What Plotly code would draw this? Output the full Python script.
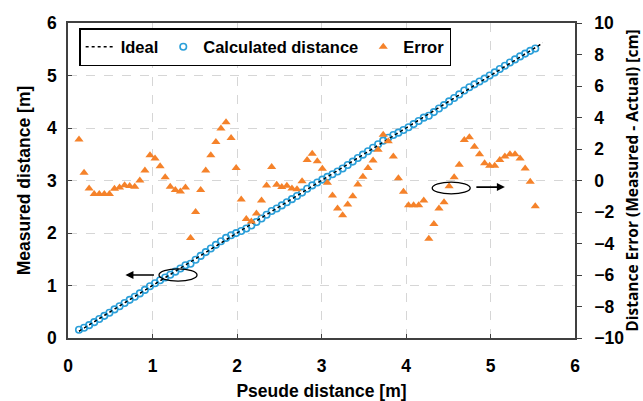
import plotly.graph_objects as go

pseudo = [0.13, 0.19, 0.25, 0.31, 0.37, 0.43, 0.49, 0.55, 0.61, 0.67,
          0.73, 0.79, 0.85, 0.91, 0.97, 1.03, 1.09, 1.15, 1.21, 1.27,
          1.33, 1.39, 1.45, 1.51, 1.57, 1.63, 1.69, 1.75, 1.81, 1.87,
          1.93, 1.99, 2.05, 2.11, 2.17, 2.23, 2.29, 2.35, 2.41, 2.47,
          2.53, 2.59, 2.65, 2.71, 2.77, 2.83, 2.89, 2.95, 3.01, 3.07,
          3.13, 3.19, 3.25, 3.31, 3.37, 3.43, 3.49, 3.55, 3.61, 3.67,
          3.73, 3.79, 3.85, 3.91, 3.97, 4.03, 4.09, 4.15, 4.21, 4.27,
          4.33, 4.39, 4.45, 4.51, 4.57, 4.63, 4.69, 4.75, 4.81, 4.87,
          4.93, 4.99, 5.05, 5.11, 5.17, 5.23, 5.29, 5.35, 5.41, 5.47,
          5.53]

error_cm = [2.6, 0.5, -0.5, -0.85, -0.85, -0.85, -0.85, -0.53, -0.45, -0.3,
            -0.35, -0.4, 0.0, 0.63, 1.6, 1.4, 0.9, 0.2, -0.4, -0.6,
            -0.7, -0.45, -3.65, -2.0, -0.6, 0.63, 1.6, 2.45, 3.3, 3.7,
            2.7, 0.8, -1.2, -2.45, -2.6, -2.1, -1.27, -0.32, 0.85, -0.27,
            -0.42, -0.34, -0.51, -0.55, -0.04, 1.3, 1.7, 1.23, 0.74, -0.15,
            -0.96, -1.78, -2.2, -1.53, -1.0, -0.25, 0.24, 0.8, 1.27, 1.95,
            2.9, 2.5, 1.53, 0.15, -0.72, -1.57, -1.57, -1.57, -1.27, -3.7,
            -2.76, -1.78, -1.38, -0.37, 0.21, 1.0, 2.57, 2.74, 2.15, 1.66,
            1.1, 0.94, 0.94, 1.3, 1.53, 1.66, 1.66, 1.4, 0.76, -0.08,
            -1.64]

measured = [round(p + e / 100.0, 4) for p, e in zip(pseudo, error_cm)]

ideal_x = [0.13, 5.62]
ideal_y = [0.13, 5.62]

x_ticks = [0, 1, 2, 3, 4, 5, 6]
y_ticks = [0, 1, 2, 3, 4, 5, 6]
y2_ticks = [-10, -8, -6, -4, -2, 0, 2, 4, 6, 8, 10]

BLUE = "#2b9fd9"
ORANGE = "#f5822a"
AX = "#404040"
FONT = "Liberation Sans, Arial, sans-serif"

fig = go.Figure()

fig.add_trace(go.Scatter(
    x=ideal_x, y=ideal_y, mode="lines", name="Ideal",
    line=dict(color="black", width=1.3, dash="3px,3px"),
))
fig.add_trace(go.Scatter(
    x=pseudo, y=measured, mode="markers", name="Calculated distance",
    marker=dict(symbol="circle-open", size=6.5, color=BLUE, line=dict(width=1.6, color=BLUE)),
))
fig.add_trace(go.Scatter(
    x=pseudo, y=error_cm, mode="markers", name="Error", yaxis="y2",
    marker=dict(symbol="triangle-up", size=8, color=ORANGE),
))

# re-draw ideal line on top of circles
fig.add_trace(go.Scatter(
    x=ideal_x, y=ideal_y, mode="lines", showlegend=False, hoverinfo="skip",
    line=dict(color="black", width=1.2, dash="3px,3px"),
))

axis_common = dict(
    showline=True, linecolor=AX, linewidth=1.5,
    tickfont=dict(family=FONT, size=17.5, color="black", weight="bold"),
    zeroline=False, automargin=False,
)

fig.update_layout(
    width=643, height=401,
    margin=dict(l=68, r=68, t=23, b=63),
    paper_bgcolor="white", plot_bgcolor="white",
    font=dict(family=FONT, color="black"),
    showlegend=True,
    legend=dict(
        orientation="h", x=0.022, y=0.984, xanchor="left", yanchor="top",
        bordercolor="black", borderwidth=1.5, bgcolor="white",
        font=dict(family=FONT, size=16.5, color="black", weight="bold"),
        itemwidth=30, tracegroupgap=0,
    ),
    xaxis=dict(
        range=[0, 6], tickvals=x_ticks, mirror=True,
        showgrid=True, gridcolor="#d6d6d6", griddash="dash", gridwidth=1,
        ticks="inside", ticklen=4, tickcolor=AX, ticklabelstandoff=11,
        title=dict(text="Pseude distance [m]", standoff=14,
                   font=dict(family=FONT, size=17.5, color="black", weight="bold")),
        **axis_common,
    ),
    yaxis=dict(
        range=[0, 6], tickvals=y_ticks, mirror=True,
        showgrid=True, gridcolor="#d6d6d6", griddash="dash", gridwidth=1,
        ticks="inside", ticklen=4, tickcolor=AX, ticklabelstandoff=6,
        title=dict(text="Measured distance [m]", standoff=12,
                   font=dict(family=FONT, size=17.5, color="black", weight="bold")),
        **axis_common,
    ),
    yaxis2=dict(
        range=[-10, 10], tickvals=y2_ticks, overlaying="y", side="right",
        showgrid=False, ticks="outside", ticklen=5, tickcolor=AX, ticklabelstandoff=9,
        title=dict(text="Distance Error (Measured - Actual) [cm]", standoff=9,
                   font=dict(family="Open Sans, sans-serif", size=15.5, color="black", weight="bold")),
        **axis_common,
    ),
)

# rotation-style ellipses with arrows
fig.add_shape(type="circle", xref="x", yref="y",
              x0=1.077, x1=1.527, y0=1.085, y1=1.315,
              line=dict(color="black", width=1.3))
fig.add_annotation(x=0.68, y=1.20, xref="x", yref="y", ax=30, ay=0,
                   showarrow=True, arrowhead=2, arrowsize=1, arrowwidth=1.6,
                   arrowcolor="black", text="")

fig.add_shape(type="circle", xref="x", yref="y2",
              x0=4.31, x1=4.76, y0=-0.85, y1=-0.1,
              line=dict(color="black", width=1.3))
fig.add_annotation(x=5.17, y=-0.42, xref="x", yref="y2", ax=-30, ay=0,
                   showarrow=True, arrowhead=2, arrowsize=1, arrowwidth=1.6,
                   arrowcolor="black", text="")

fig.write_html("out.html")
